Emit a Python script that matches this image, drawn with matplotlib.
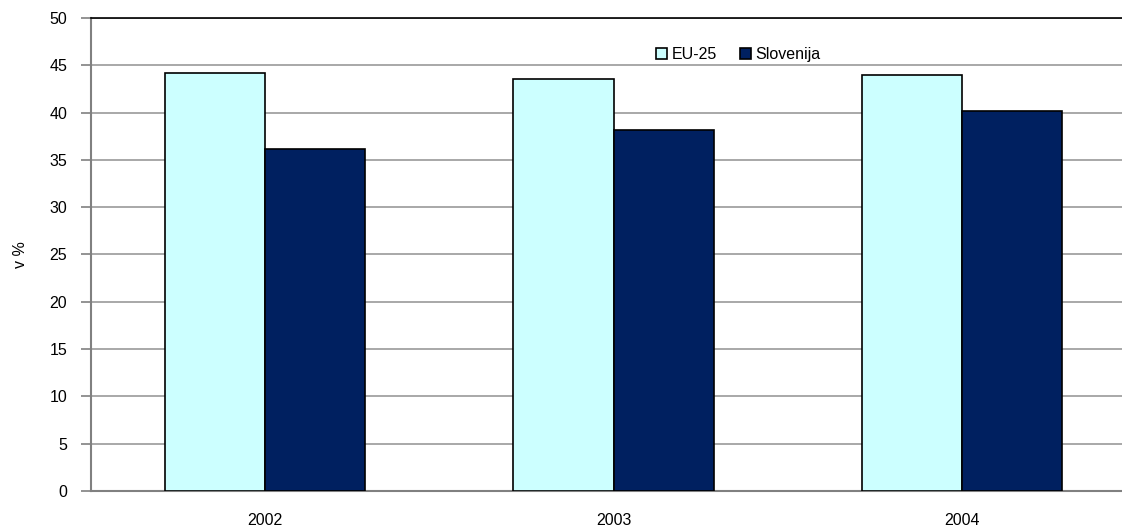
import matplotlib
matplotlib.use("Agg")
import matplotlib.pyplot as plt
import numpy as np

plt.rcParams['font.family'] = ['Liberation Sans', 'DejaVu Sans']

years = ["2002", "2003", "2004"]
eu25 = [44.2, 43.6, 44.0]
slovenija = [36.2, 38.2, 40.2]
series_names = ["EU-25", "Slovenija"]
yticks = list(range(0, 51, 5))

fig = plt.figure(figsize=(11.22, 5.30), dpi=100)
W, H = 1122, 530
left, right, top, bottom = 90.75, 1136.25, 18, 491
ax = fig.add_axes([left / W, 1 - bottom / H, (right - left) / W, (bottom - top) / H])

x = np.arange(len(years))
bw = 0.287
ax.bar(x - bw / 2, eu25, bw, color="#ccffff", edgecolor="black", linewidth=1.2,
       label=series_names[0], zorder=3)
ax.bar(x + bw / 2, slovenija, bw, color="#002060", edgecolor="black", linewidth=1.2,
       label=series_names[1], zorder=3)

fs = 11.5
ax.set_xlim(-0.5, 2.5)
ax.set_ylim(0, 50)
ax.set_yticks(yticks)
ax.set_xticks(x)
ax.set_xticklabels(years, fontsize=fs)
ax.tick_params(axis="x", length=0, pad=16)
ax.tick_params(axis="y", length=7, color="#808080", width=1.2, labelsize=fs, pad=10)
ax.yaxis.grid(True, color="#999999", linewidth=1.2, zorder=0)
ax.set_axisbelow(True)

for side in ("left", "bottom"):
    ax.spines[side].set_color("#808080")
    ax.spines[side].set_linewidth(1.5)
ax.spines["top"].set_color("black")
ax.spines["top"].set_linewidth(1.2)
ax.spines["right"].set_visible(False)

ax.set_ylabel("v %", fontsize=fs, labelpad=15)

ax.legend(loc="upper left", bbox_to_anchor=((656 - left) / (right - left), 1 - (47 - top) / (bottom - top)),
          ncol=2, frameon=False, fontsize=fs, handlelength=0.7, handleheight=0.7,
          handletextpad=0.3, columnspacing=1.4, borderpad=0, borderaxespad=0)

fig.savefig("out.png", dpi=100)
